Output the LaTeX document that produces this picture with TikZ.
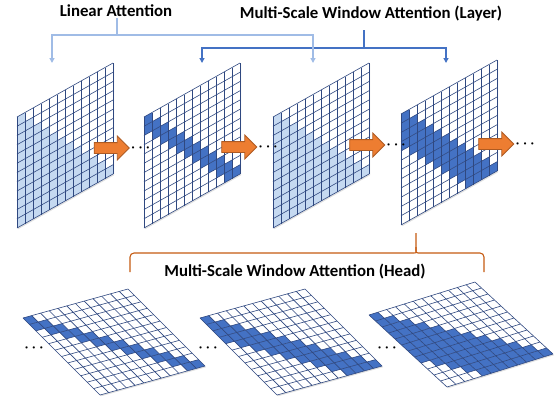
\documentclass[tikz,border=0pt]{standalone}
\usepackage{fontspec}
\setmainfont{Carlito}
\usepackage{tikz}
\usetikzlibrary{arrows.meta, shapes.arrows, shadows}

\definecolor{cellLight}{RGB}{197,217,241}
\definecolor{cellDark}{RGB}{68,114,196}
\definecolor{gridLine}{RGB}{47,72,128}
\definecolor{linBlue}{RGB}{160,188,230}
\definecolor{mswBlue}{RGB}{68,114,196}
\definecolor{arrOrange}{RGB}{237,125,49}
\definecolor{arrEdge}{RGB}{174,90,33}
\definecolor{braceOrange}{RGB}{197,90,17}

% 注意グリッド: #1 原点, #2 列ベクトル, #3 行ベクトル, #4 窓幅, #5 セルのスタイル
\newcommand{\attgrid}[5]{%
  \begin{scope}[shift={#1}, x={#2}, y={#3}]
    \fill[white, drop shadow={opacity=0.25, shadow xshift=1.2pt, shadow yshift=-1.2pt}]
      (0,0) -- (12,0) -- (12,12) -- (0,12) -- cycle;
    \foreach \i in {0,...,11}{
      \foreach \j in {0,...,\i}{
        \pgfmathtruncatemacro{\hit}{\j>\i-#4}
        \ifnum\hit=1
          \fill[#5] (\j,\i) -- ++(1,0) -- ++(0,1) -- ++(-1,0) -- cycle;
        \fi
      }
    }
    \foreach \k in {0,...,12}{
      \draw[grid line] (\k,0) -- (\k,12);
      \draw[grid line] (0,\k) -- (12,\k);
    }
  \end{scope}}

\begin{document}
\begin{tikzpicture}[
  x=1pt, y=-1pt,
  title/.style={font=\fontsize{16.8}{18}\selectfont\bfseries, inner sep=1pt},
  grid line/.style={gridLine, line width=0.6pt},
  lin cell/.style={fill=cellLight},
  msw cell/.style={fill=cellDark},
  lin arrow/.style={linBlue, line width=1.2pt, -{Triangle[length=5pt, width=5pt]}},
  msw arrow/.style={mswBlue, line width=1.2pt, -{Triangle[length=5pt, width=5pt]}},
  flow/.style={single arrow, draw=arrEdge, fill=arrOrange, line width=0.8pt,
    minimum height=35pt, inner xsep=0pt, inner ysep=5pt, single arrow head extend=6.5pt},
  more/.style={font=\fontsize{15}{15}\selectfont\boldmath, inner sep=0pt},
  brace/.style={braceOrange, line width=1.1pt, rounded corners=4pt},
]
\useasboundingbox (0,0) rectangle (560,400);

% タイトル
\node[title] (lin) at (116,11) {Linear Attention};
\node[title] (msl) at (371,14) {Multi-Scale Window Attention (Layer)};
\node[title] (msh) at (295,272) {Multi-Scale Window Attention (Head)};

% 上段グリッド
\coordinate (L1) at (17,117);
\coordinate (L2) at (144,117);
\coordinate (L3) at (273,117);
\coordinate (L4) at (401,114);
\attgrid{(L1)}{(8pt,4.5pt)}{(0pt,-9.25pt)}{12}{lin cell}
\attgrid{(L2)}{(8pt,4.5pt)}{(0pt,-9.25pt)}{2}{msw cell}
\attgrid{(L3)}{(8pt,4.5pt)}{(0pt,-9.25pt)}{12}{lin cell}
\attgrid{(L4)}{(8pt,4.5pt)}{(0pt,-9.25pt)}{4}{msw cell}

% 下段グリッド
\coordinate (H1) at (23,318);
\coordinate (H2) at (200,318);
\coordinate (H3) at (369,315);
\attgrid{(H1)}{(8.75pt,2.417pt)}{(6.417pt,-6.417pt)}{2}{msw cell}
\attgrid{(H2)}{(8.75pt,2.417pt)}{(6.417pt,-6.417pt)}{4}{msw cell}
\attgrid{(H3)}{(8.833pt,2.75pt)}{(6.5pt,-6pt)}{8}{msw cell}

% 接続線
\coordinate (linbar) at (117,35);
\coordinate (mslstem) at (364,30);
\coordinate (mslbar) at (364,48);
\coordinate (in1) at (52,63);
\coordinate (in2) at (202,63);
\coordinate (in3) at (313,63);
\coordinate (in4) at (446,63);
\draw[msw arrow] (mslstem) -- (mslbar) -| (in2);
\draw[msw arrow] (mslbar) -| (in4);
\draw[lin arrow] (lin.south -| linbar) -- (linbar) -| (in1);
\draw[lin arrow] (linbar) -| (in3);

% 矢印と省略記号
\node[flow] (f1) at (109,148) {};
\node[flow] (f2) at (236.5,147) {};
\node[flow] (f3) at (364.5,145) {};
\node[flow] (f4) at (493.5,144) {};
\node[more, right=1pt] (d1) at (f1.east) {$\cdots$};
\node[more, right=1pt] (d2) at (f2.east) {$\cdots$};
\node[more, right=1pt] (d3) at (f3.east) {$\cdots$};
\node[more, right=1pt] (d4) at (f4.east) {$\cdots$};
\node[more] (d5) at (34,348) {$\cdots$};
\node[more] (d6) at (208,348) {$\cdots$};
\node[more] (d7) at (387,348) {$\cdots$};

% 括弧
\coordinate (brL) at (130,272);
\coordinate (brR) at (484,272);
\coordinate (brTip) at (416,233);
\draw[brace] (brL) -- (130,253) -- (410,253) .. controls (416,253) .. (416,247) -- (brTip);
\draw[brace] (brR) -- (484,253) -- (422,253) .. controls (416,253) .. (416,247);

\end{tikzpicture}
\end{document}
